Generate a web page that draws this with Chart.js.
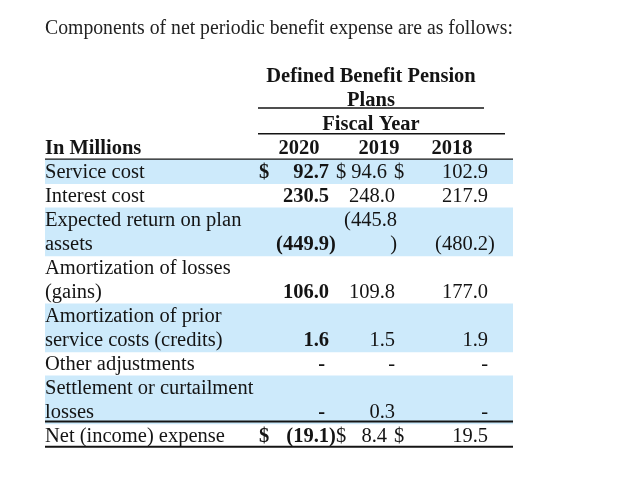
<!DOCTYPE html>
<html>
<head>
<meta charset="utf-8">
<script src="https://cdn.jsdelivr.net/npm/chart.js@4.4.1/dist/chart.umd.min.js"></script>
<style>
  html, body { margin: 0; padding: 0; background: #fff; }
  #wrap { width: 629px; height: 485px; }
</style>
</head>
<body>
<div id="wrap"><canvas id="benefitExpense"></canvas></div>
<script>
// table content
const title = 'Components of net periodic benefit expense are as follows:';
const headerLines = ['Defined Benefit Pension', 'Plans', 'Fiscal Year'];
const stubHeader = 'In Millions';
const years = ['2020', '2019', '2018'];
const rowLabels = [
  ['Service cost'],
  ['Interest cost'],
  ['Expected return on plan', 'assets'],
  ['Amortization of losses', '(gains)'],
  ['Amortization of prior', 'service costs (credits)'],
  ['Other adjustments'],
  ['Settlement or curtailment', 'losses'],
  ['Net (income) expense']
];
const fy2020 = [92.7, 230.5, -449.9, 106.0, 1.6, 0, 0, -19.1];
const fy2019 = [94.6, 248.0, -445.8, 109.8, 1.5, 0, 0.3, 8.4];
const fy2018 = [102.9, 217.9, -480.2, 177.0, 1.9, 0, 0, 19.5];
const dollarRows = ['Service cost', 'Net (income) expense'];

const series = [fy2020, fy2019, fy2018];

// one category per printed text line
const lineLabels = [...headerLines, stubHeader, ...rowLabels.flat()];
const rowStart = [];
let n = headerLines.length + 1;
rowLabels.forEach(r => { rowStart.push(n); n += r.length; });

const TABLE_W = 468;
const shaded = lineLabels.map(() => null);
rowLabels.forEach((r, i) => {
  if (i % 2 === 0) r.forEach((_, k) => { shaded[rowStart[i] + k] = [0, TABLE_W]; });
});

const FONT = '"Liberation Serif", "Times New Roman", serif';
const SIZE = 20.5;
const INK = '#141414';

// column anchors, in table units from the left edge
const cols = [
  { dollar: 214, right: 284, dash: 280, wrap: 80, bold: true, shift: 0 },
  { dollar: 291, right: 350, dash: 350, wrap: 56, bold: false, shift: 8 },
  { dollar: 349, right: 443, dash: 443, wrap: 90, bold: false, shift: 0 }
];
const yearCenters = [254, 334, 407];
const headCenter = 326;
const rules = [
  { at: 1.35, from: 213, to: 439, w: 1.5 },
  { at: 2.42, from: 213, to: 460, w: 1.3 },
  { at: 3.48, from: 0, to: TABLE_W, w: 1.3 },
  { at: 14.4, from: 0, to: TABLE_W, w: 2 },
  { at: 15.45, from: 0, to: TABLE_W, w: 2 }
];

const tableText = {
  id: 'tableText',
  afterDatasetsDraw(chart) {
    const { ctx, scales: { x, y } } = chart;
    const font = bold => (bold ? 'bold ' : '') + SIZE + 'px ' + FONT;
    const put = (txt, ux, line, align, bold) => {
      ctx.font = font(bold);
      ctx.textAlign = align;
      ctx.fillText(txt, x.getPixelForValue(ux), y.getPixelForValue(line) + 1);
    };
    ctx.save();
    ctx.fillStyle = INK;
    ctx.textBaseline = 'middle';

    headerLines.forEach((t, i) => put(t, headCenter, i, 'center', true));
    put(stubHeader, 0, 3, 'left', true);
    years.forEach((t, i) => put(t, yearCenters[i], 3, 'center', true));

    rowLabels.forEach((lines, r) => {
      lines.forEach((t, k) => put(t, 0, rowStart[r] + k, 'left', false));
      const last = rowStart[r] + lines.length - 1;
      const hasDollar = dollarRows.includes(lines[0]);
      series.forEach((vals, c) => {
        const col = cols[c];
        const v = vals[r];
        if (hasDollar) put('$', col.dollar, last, 'left', col.bold);
        if (v === 0) { put('-', col.dash, last, 'right', col.bold); return; }
        const digits = Math.abs(v).toFixed(1);
        const right = col.right - (hasDollar ? col.shift : 0);
        ctx.font = font(col.bold);
        const full = v < 0 ? '(' + digits + ')' : digits;
        if (ctx.measureText(full).width > col.wrap) {
          put(full.slice(0, -1), right + 2, last - 1, 'right', col.bold);
          put(full.slice(-1), right + 2, last, 'right', col.bold);
        } else if (v < 0) {
          put('(' + digits, right, last, 'right', col.bold);
          put(')', right, last, 'left', col.bold);
        } else {
          put(digits, right, last, 'right', col.bold);
        }
      });
    });

    ctx.strokeStyle = INK;
    rules.forEach(rl => {
      const py = y.getPixelForValue(rl.at);
      ctx.lineWidth = rl.w;
      ctx.beginPath();
      ctx.moveTo(x.getPixelForValue(rl.from), py);
      ctx.lineTo(x.getPixelForValue(rl.to), py);
      ctx.stroke();
    });
    ctx.restore();
  }
};

new Chart(document.getElementById('benefitExpense'), {
  type: 'bar',
  data: {
    labels: lineLabels,
    datasets: [{
      label: 'row shading',
      data: shaded,
      backgroundColor: '#cdeafb',
      borderWidth: 0,
      categoryPercentage: 1,
      barPercentage: 1
    }]
  },
  options: {
    indexAxis: 'y',
    responsive: true,
    maintainAspectRatio: false,
    animation: false,
    layout: { padding: { left: 45, right: 116, top: 0, bottom: 37 } },
    plugins: {
      legend: { display: false },
      tooltip: { enabled: false },
      title: {
        display: true,
        text: title,
        align: 'start',
        color: '#222',
        font: { family: FONT, size: SIZE, weight: 'normal', lineHeight: 1.2 },
        padding: { top: 16, bottom: 23 }
      }
    },
    scales: {
      x: { type: 'linear', min: 0, max: TABLE_W, display: false },
      y: { type: 'category', display: false }
    }
  },
  plugins: [tableText]
});
</script>
</body>
</html>
